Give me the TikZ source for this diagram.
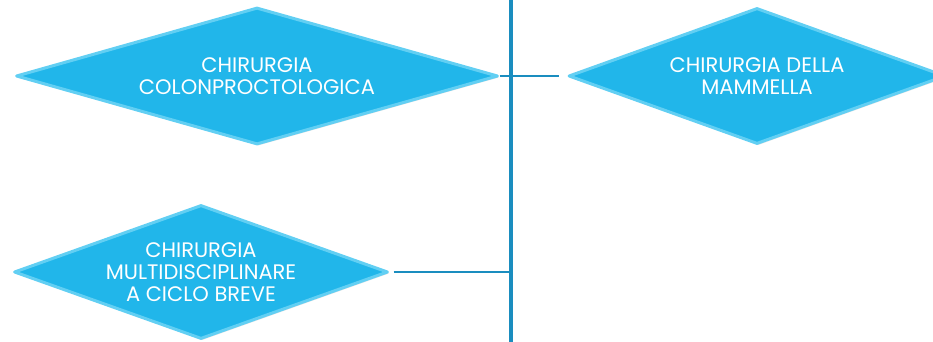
\documentclass[tikz,border=0pt]{standalone}
\usepackage{fontspec}
\setsansfont{Poppins}
\usepackage{tikz}
\usetikzlibrary{shapes.geometric,shadows}

\definecolor{areablue}{HTML}{21B6EA}
\definecolor{areaedge}{HTML}{62CFF3}
\definecolor{spineblue}{HTML}{1A8DBF}

\begin{document}
\begin{tikzpicture}[x=1pt, y=-1pt,
  every node/.style={font=\sffamily\fontsize{21}{22}\selectfont},
  area/.style={diamond, draw=areaedge, line width=3pt, line join=round, fill=areablue, text=white, align=center, inner sep=-6pt,
    drop shadow={opacity=0.2, shadow xshift=1.5pt, shadow yshift=-1.5pt}},
  link/.style={draw=spineblue, line width=2pt},
  spine/.style={draw=spineblue, line width=3.5pt},
]
\useasboundingbox (0,0) rectangle (933,342);

\node[area, minimum width=482pt, minimum height=137pt, aspect=3.5] (colon) at (257,76) {CHIRURGIA\\COLONPROCTOLOGICA};
\node[area, minimum width=377pt, minimum height=136pt, aspect=2.8] (mammella) at (757,76) {CHIRURGIA DELLA\\MAMMELLA};
\node[area, minimum width=374pt, minimum height=134pt, aspect=2.8] (multi) at (201,272) {CHIRURGIA\\MULTIDISCIPLINARE\\A CICLO BREVE};

\coordinate (spinetop) at (511,0);
\coordinate (spinebot) at (511,342);
\draw[spine] (spinetop) -- (spinebot);

\draw[link, shorten >=8pt] (colon.east) -- (mammella.west);
\draw[link, shorten <=4pt] (multi.east) -- (multi.east -| spinetop);

\end{tikzpicture}
\end{document}
